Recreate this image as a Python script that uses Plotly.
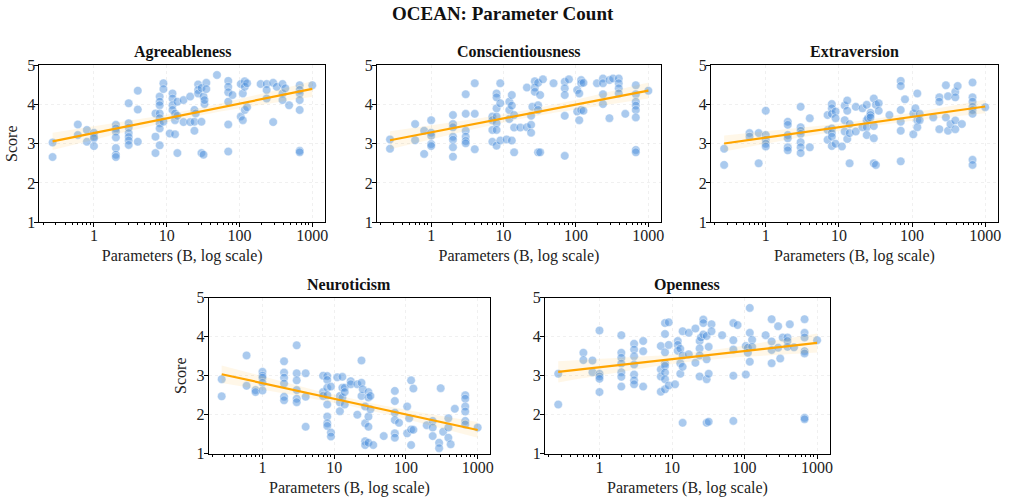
import numpy as np
import plotly.graph_objects as go

# ---------------- data ----------------
TRAITS = ["Agreeableness", "Conscientiousness", "Extraversion", "Neuroticism", "Openness"]

AGR_SIZES = [0.27, 0.6, 0.8, 1, 2, 3, 4, 7, 8, 9, 11, 12, 13, 14, 17, 21, 24, 25, 27, 30, 32, 33, 35, 49,
             70, 80, 104, 111, 118, 127, 195, 236, 290, 325, 390, 425, 480, 671, 1000]
AGR_SCORES = [[3.03, 2.66], [3.49, 3.22], [3.35, 3.05], [3.28, 3.18, 3.14, 2.94],
              [3.48, 3.39, 3.31, 3.16, 2.89, 2.72, 2.66], [4.03, 3.52, 3.41, 3.27, 3.17, 3.08, 2.97],
              [4.35, 3.87, 3.05], [3.77, 3.18, 2.76], [4.20, 4.07, 3.98, 3.77, 3.65, 3.52, 3.39, 2.96],
              [4.54, 4.39, 3.56], [3.26], [4.28, 4.15, 3.98, 3.86], [3.77, 3.60, 3.24], [4.07, 3.71, 2.76],
              [4.11, 3.55], [4.20, 3.55], [3.86, 3.56, 3.33], [3.77], [4.51, 4.37, 4.28], [4.42, 3.56, 2.76],
              [4.20, 2.72], [4.01, 4.11], [4.55, 4.39], [4.75], [4.60, 4.45, 4.31, 4.07, 3.49, 2.80], [4.24],
              [4.52, 3.69], [4.28, 3.60], [4.59, 4.45, 3.86], [4.54, 3.93], [4.52], [4.52, 4.37, 4.15],
              [4.55, 3.55], [4.45], [4.52, 4.28, 4.11], [4.41], [3.98],
              [4.49, 4.37, 4.28, 4.11, 3.86, 2.82, 2.78], [4.49]]

CON_SIZES = [0.27, 0.6, 0.8, 1, 2, 3, 4, 7, 8, 9, 11, 12, 13, 14, 17, 21, 24, 25, 27, 30, 32, 35, 49,
             70, 80, 104, 111, 118, 127, 195, 236, 290, 325, 390, 480, 671, 1000]
CON_SCORES = [[3.11, 2.87], [3.50, 3.09], [3.33, 2.74], [3.60, 3.28, 3.20, 2.99, 2.94],
              [3.73, 3.50, 3.42, 3.18, 3.10, 2.91, 2.67], [4.26, 3.76, 3.33, 3.18, 3.07, 3.01],
              [4.54, 3.76, 2.86], [3.69, 3.60, 3.35, 3.05], [4.28, 4.18, 3.90, 3.69, 3.52, 3.35, 2.95],
              [4.54, 4.03, 3.08], [3.11], [4.07, 3.86, 3.63], [4.24, 3.97, 3.08], [3.73, 3.41, 2.78],
              [3.41], [4.43, 3.42], [3.71, 3.48, 3.28], [3.94], [4.59, 4.43, 4.32], [4.55, 3.98, 3.86, 2.78],
              [4.24, 2.78], [4.64], [4.54], [4.58, 4.41, 4.24, 3.71, 2.69], [4.64], [4.37, 3.82],
              [4.28, 3.60], [4.62, 4.54, 3.86], [4.55, 3.84], [4.54], [4.66, 4.54, 4.26, 4.01],
              [4.62, 3.65], [4.66], [4.66, 4.54, 4.41, 4.28], [3.76],
              [4.49, 4.26, 4.07, 3.97, 3.86, 3.67, 2.84, 2.78], [4.35]]

EXT_SIZES = [0.27, 0.6, 0.8, 1, 2, 3, 4, 7, 8, 9, 11, 12, 13, 14, 17, 21, 24, 25, 27, 30, 32, 35, 49,
             70, 80, 104, 111, 118, 127, 195, 236, 290, 310, 335, 390, 420, 480, 671, 1000]
EXT_SCORES = [[2.87, 2.46], [3.27, 3.18], [3.27, 2.50], [3.84, 3.22, 3.10, 3.00, 2.93],
              [3.56, 3.48, 3.22, 3.14, 2.91, 2.83], [3.94, 3.42, 3.33, 3.25, 3.04, 2.91, 2.76],
              [3.65, 2.91], [3.73, 3.35, 3.10], [4.01, 3.90, 3.76, 3.39, 3.27, 3.18, 2.94],
              [3.82, 3.65, 3.00], [2.93], [3.97, 3.60, 3.31], [4.10, 3.84, 3.12], [3.50, 3.27, 2.50],
              [3.94, 3.31], [3.90, 3.42], [3.99, 3.60, 3.42, 3.22], [3.65], [3.79, 3.73, 3.67],
              [4.15, 3.45, 3.14, 2.50], [3.99, 2.46], [4.03, 3.84], [3.73],
              [4.60, 4.47, 3.86, 3.56, 3.33, 2.55], [4.13], [3.77, 3.24], [3.90], [4.28, 3.60, 3.42],
              [3.76, 3.60], [3.67], [4.18, 4.07, 3.37], [4.49, 3.67], [4.21, 3.33], [3.50],
              [4.32, 4.18, 3.59, 3.37], [4.47], [3.50], [4.56, 4.18, 4.07, 3.94, 3.86, 3.76, 2.59, 2.46],
              [3.93]]

NEU_SIZES = [0.27, 0.6, 0.8, 1, 2, 3, 4, 7, 8, 9, 11, 12, 13, 14, 17, 21, 24, 25, 27, 30, 32, 35, 49,
             70, 80, 104, 111, 118, 127, 195, 236, 290, 305, 330, 390, 420, 480, 671, 1000]
NEU_SCORES = [[2.91, 2.47], [3.52, 2.74], [2.63, 2.58], [3.10, 3.00, 2.95, 2.82, 2.62],
              [3.37, 3.08, 2.95, 2.80, 2.46, 2.37], [3.78, 3.06, 2.88, 2.63, 2.41, 2.32],
              [3.06, 2.46, 1.69], [3.00, 2.58, 2.48], [2.99, 2.89, 2.69, 2.50, 2.26, 1.95, 1.78, 1.71],
              [2.72, 1.54, 1.44], [2.96], [2.48, 2.31, 2.09], [2.97, 2.69, 2.44], [2.69, 2.58, 2.26],
              [2.86, 2.78], [2.78, 2.00], [3.39, 2.82, 2.48], [2.65], [2.21, 1.78, 1.32, 1.22],
              [2.58, 2.44, 1.95, 1.69, 1.28], [2.48, 2.14], [1.22], [1.45],
              [2.61, 2.35, 2.05, 1.86, 1.52, 1.41], [1.79], [2.21, 1.52], [1.91], [2.88, 1.62, 1.22],
              [2.67, 1.61], [1.73], [1.84, 1.67, 1.45], [1.28, 1.14], [2.68], [1.56], [1.91, 1.67, 1.41],
              [1.24], [2.15], [2.50, 2.41, 2.21, 2.08, 1.84, 1.75], [1.67]]

OPE_SIZES = [0.27, 0.6, 0.8, 1, 2, 3, 4, 7, 8, 9, 11, 12, 13, 14, 17, 21, 24, 25, 27, 30, 32, 35, 49,
             70, 80, 104, 111, 118, 127, 195, 236, 290, 310, 335, 390, 420, 480, 671, 1000]
OPE_SCORES = [[3.05, 2.26], [3.59, 3.40], [3.39, 3.09], [4.16, 3.05, 2.98, 2.92, 2.58],
              [4.04, 3.59, 3.46, 3.31, 3.09, 2.97, 2.72], [3.82, 3.67, 3.50, 3.29, 3.03, 2.88, 2.78],
              [3.89, 3.63, 2.72], [3.76, 3.16, 2.98, 2.59], [4.35, 4.07, 3.60, 3.31, 3.25, 3.08, 2.91, 2.65],
              [4.37, 3.79, 2.75], [2.78], [3.89, 3.79, 3.64], [3.69, 3.32, 3.05], [4.14, 3.52, 3.23, 1.79],
              [4.10, 3.55], [4.21, 3.33], [3.89, 3.70, 3.52, 2.98], [3.98], [4.44, 4.35, 4.06],
              [4.02, 3.42, 2.91, 1.79], [3.74, 3.05, 1.82], [4.32, 4.14], [4.04],
              [4.35, 3.91, 3.67, 3.00, 1.84], [4.30], [3.76, 3.03], [3.72, 3.59], [4.74, 4.10, 3.36],
              [3.92, 3.74], [4.04], [4.45, 3.88, 3.66, 3.32], [4.27, 3.72], [3.44], [3.98],
              [3.98, 3.89, 3.74], [4.32], [3.73], [4.45, 4.10, 3.98, 3.63, 3.57, 1.92, 1.88], [3.91]]

X_TICKS = [1, 10, 100, 1000]
X_TICK_TEXT = ["1", "10", "100", "1000"]
Y_TICKS = [1, 2, 3, 4, 5]

SIZES = [AGR_SIZES, CON_SIZES, EXT_SIZES, NEU_SIZES, OPE_SIZES]
SCORES = [AGR_SCORES, CON_SCORES, EXT_SCORES, NEU_SCORES, OPE_SCORES]

# ---------------- layout ----------------
W, H = 1009, 502
FONT = "Liberation Serif, Times New Roman, serif"
# the photographed page comes out slightly squeezed vertically about its centre;
# positions below are the wanted on-screen pixels, converted to layout pixels.
SQUEEZE_Y = 0.967


def ly(y_screen):
    return H / 2 + (y_screen - H / 2) / SQUEEZE_Y


# pixel boxes of each panel on screen: (left, right, top, bottom)
BOXES = [(39.5, 326, 65.5, 222.7), (378, 663, 65.5, 222.7), (713, 1001, 65.5, 222.7),
         (209.3, 491.7, 298.3, 454.3), (546.7, 832.3, 298.3, 454.3)]
TITLE_Y = [52, 52, 52, 285.5, 285.5]
MAIN_TITLE_Y = 14

POINT_COLOR = "rgba(70,140,218,0.46)"
LINE_COLOR = "#FFA500"
BAND_COLOR = "rgba(255,175,30,0.10)"
TEXT_COLOR = "#222"

minor_vals = [m * 10 ** e for e in range(-1, 3) for m in range(2, 10)]

fig = go.Figure()
annotations = []

for i, (name, sizes, scores) in enumerate(zip(TRAITS, SIZES, SCORES)):
    k = i + 1
    xs = np.array([s for s, grp in zip(sizes, scores) for _ in grp], dtype=float)
    ys = np.array([v for grp in scores for v in grp], dtype=float)
    xref = "x" if k == 1 else f"x{k}"
    yref = "y" if k == 1 else f"y{k}"

    fig.add_trace(go.Scatter(
        x=xs, y=ys, mode="markers", xaxis=xref, yaxis=yref, showlegend=False,
        marker=dict(size=8.5, color=POINT_COLOR, line=dict(width=0.6, color="rgba(255,255,255,0.7)")),
        hoverinfo="x+y"))

    # OLS fit on log10(x) with 95% confidence band
    lx = np.log10(xs)
    slope, intercept = np.polyfit(lx, ys, 1)
    n = len(xs)
    resid = ys - (slope * lx + intercept)
    s = np.sqrt(np.sum(resid ** 2) / (n - 2))
    sxx = np.sum((lx - lx.mean()) ** 2)
    gx = np.linspace(lx.min(), lx.max(), 100)
    gy = slope * gx + intercept
    se = s * np.sqrt(1.0 / n + (gx - lx.mean()) ** 2 / sxx)
    up, lo = gy + 1.96 * se, gy - 1.96 * se
    px = 10 ** gx
    fig.add_trace(go.Scatter(
        x=np.concatenate([px, px[::-1]]), y=np.concatenate([up, lo[::-1]]),
        fill="toself", fillcolor=BAND_COLOR, line=dict(width=0), mode="lines",
        xaxis=xref, yaxis=yref, showlegend=False, hoverinfo="skip"))
    fig.add_trace(go.Scatter(
        x=px, y=gy, mode="lines", line=dict(color=LINE_COLOR, width=2.2),
        xaxis=xref, yaxis=yref, showlegend=False, hoverinfo="skip"))

    l, r, t, b = BOXES[i]
    xdom = [l / W, r / W]
    ydom = [1 - ly(b) / H, 1 - ly(t) / H]
    common = dict(showline=True, mirror=True, linecolor="black", linewidth=1,
                  ticks="outside", ticklen=4, tickwidth=1, tickcolor="black",
                  tickfont=dict(family=FONT, size=16, color=TEXT_COLOR),
                  showgrid=True, gridcolor="rgba(0,0,0,0.06)", gridwidth=0.8, griddash="dot",
                  zeroline=False)
    xa = dict(common, domain=xdom, anchor=yref, type="log", range=[-0.75, 3.175],
              tickmode="array", tickvals=X_TICKS, ticktext=X_TICK_TEXT, ticklabelstandoff=-5,
              minor=dict(tickmode="array", tickvals=minor_vals, ticks="outside", ticklen=2,
                         tickcolor="black", showgrid=False),
              title=dict(text="Parameters (B, log scale)", font=dict(family=FONT, size=16, color=TEXT_COLOR),
                         standoff=6))
    ya = dict(common, domain=ydom, anchor=xref, range=[1, 5], tickmode="array", tickvals=Y_TICKS,
              ticklabelstandoff=-4)
    if k in (1, 4):
        ya["title"] = dict(text="Score", font=dict(family=FONT, size=16, color=TEXT_COLOR), standoff=5)
    fig.layout[f"xaxis{'' if k == 1 else k}"] = xa
    fig.layout[f"yaxis{'' if k == 1 else k}"] = ya

    annotations.append(dict(text=f"<b>{name}</b>", x=(xdom[0] + xdom[1]) / 2, y=1 - ly(TITLE_Y[i]) / H,
                            xref="paper", yref="paper", xanchor="center", yanchor="middle",
                            showarrow=False, font=dict(family=FONT, size=16, color="#111")))

annotations.append(dict(text="<b>OCEAN: Parameter Count</b>", x=0.5, y=1 - ly(MAIN_TITLE_Y) / H,
                        xref="paper", yref="paper", xanchor="center", yanchor="middle", showarrow=False,
                        font=dict(family=FONT, size=19, color="#111")))

fig.update_layout(width=W, height=H, margin=dict(l=0, r=0, t=0, b=0),
                  paper_bgcolor="white", plot_bgcolor="white",
                  font=dict(family=FONT, color=TEXT_COLOR), annotations=annotations)

fig.write_html("out.html")
